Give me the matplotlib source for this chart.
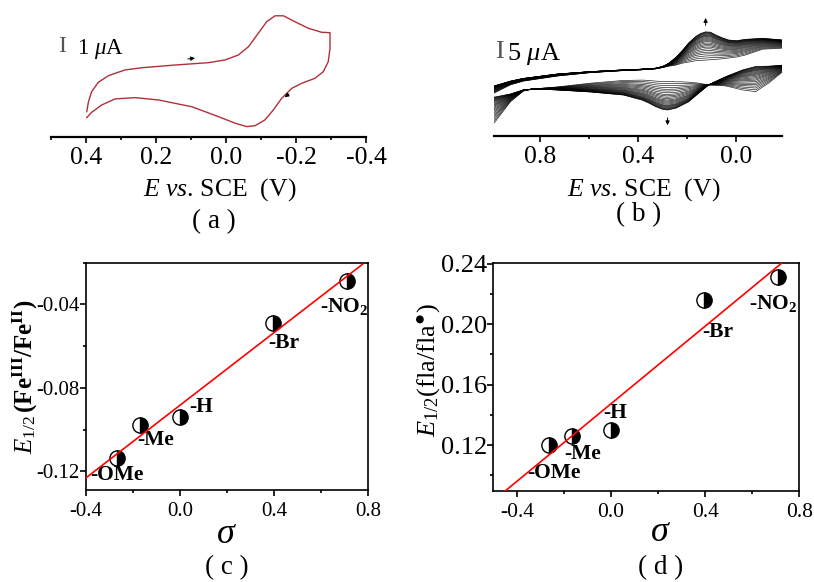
import numpy as np
import matplotlib.pyplot as plt
from matplotlib.ticker import MultipleLocator, FormatStrFormatter

plt.rcParams['font.family'] = 'Liberation Serif'
plt.rcParams['mathtext.fontset'] = 'custom'
plt.rcParams['mathtext.rm'] = 'Liberation Serif'
plt.rcParams['mathtext.it'] = 'Liberation Serif:italic'
plt.rcParams['mathtext.bf'] = 'Liberation Serif:bold'
plt.rcParams['mathtext.fallback'] = 'stix'
plt.rcParams['axes.unicode_minus'] = False

# (a) single CV, potential (V) and current (uA), forward then reverse scan
E_a = [0.398, 0.393, 0.384, 0.365, 0.336, 0.289, 0.241, 0.146, 0.051, 0.003,
       -0.035, -0.064, -0.092, -0.116, -0.140, -0.164, -0.197, -0.235, -0.273, -0.297,
       -0.297, -0.292, -0.278, -0.254, -0.216, -0.188, -0.159, -0.135, -0.111, -0.083,
       -0.059, -0.026, 0.022, 0.098, 0.193, 0.260, 0.317, 0.355, 0.384, 0.398]
I_a = [-0.90, -0.13, 0.64, 1.36, 1.87, 2.31, 2.48, 2.69, 2.87, 3.08,
       3.46, 4.10, 5.13, 6.02, 6.48, 6.48, 6.02, 5.52, 5.21, 5.18,
       3.98, 2.95, 2.18, 1.67, 1.28, 0.90, 0.13, -0.77, -1.54, -1.98,
       -2.05, -1.79, -1.28, -0.52, 0.00, 0.18, 0.08, -0.38, -0.95, -1.36]

# (b) repetitive scans: first and last scan, upper and lower branch
E_b_up = [0.989, 0.923, 0.870, 0.730, 0.595, 0.459, 0.390, 0.328, 0.299, 0.275, 0.246, 0.217,
          0.193, 0.164, 0.144, 0.123, 0.103, 0.082, 0.053, 0.029, -0.004, -0.041, -0.111, -0.193]
I_b_up_first = [5.0, 7.4, 8.5, 10.0, 11.0, 11.6, 11.8, 12.1, 12.5, 12.9, 13.2, 13.8,
                14.1, 14.5, 14.6, 14.7, 14.8, 14.9, 15.1, 15.3, 15.6, 16.2, 17.9, 18.2]
I_b_up_last = [7.1, 8.5, 9.3, 10.6, 11.3, 11.8, 12.0, 12.3, 12.8, 13.7, 15.4, 17.6,
               19.7, 21.6, 22.5, 23.0, 22.9, 22.1, 21.2, 20.6, 20.4, 20.8, 21.1, 20.6]
E_b_lo = [-0.193, -0.135, -0.082, -0.029, 0.041, 0.111, 0.152, 0.193, 0.226, 0.246, 0.267, 0.279,
          0.299, 0.328, 0.357, 0.382, 0.459, 0.595, 0.730, 0.829, 0.870, 0.923, 0.989]
I_b_lo_first = [11.3, 7.9, 5.4, 5.9, 7.1, 7.4, 7.9, 8.2, 8.3, 8.3, 8.4, 8.4,
                8.4, 8.5, 8.7, 8.8, 8.7, 7.9, 6.8, 6.2, 5.6, 2.4, -3.8]
I_b_lo_last = [13.2, 12.9, 12.8, 11.8, 9.8, 7.4, 4.9, 2.4, 1.2, 0.5, 0.2, 0.0,
               0.2, 1.0, 2.1, 2.9, 4.4, 5.3, 5.9, 6.2, 5.9, 4.7, 3.8]
# anodic peak current of every scan (uA)
peak_b = [14.7, 15.3, 15.9, 16.5, 17.0, 17.5, 18.0, 18.5, 18.9, 19.3, 19.7, 20.1, 20.4,
          20.7, 21.0, 21.3, 21.6, 21.8, 22.0, 22.2, 22.4, 22.6, 22.75, 22.9, 23.0]

# (c), (d) Hammett plots
groups = ['-OMe', '-Me', '-H', '-Br', r'-NO$_{\mathbf{2}}$']
sigma_c = [-0.267, -0.171, 0.0, 0.393, 0.71]
E_fe = [-0.1139, -0.0979, -0.0939, -0.0491, -0.0288]
sigma_d = [-0.265, -0.166, 0.0, 0.396, 0.711]
E_fla = [0.120, 0.1262, 0.1299, 0.2158, 0.2312]

# label offsets (points) from each marker
off_c = [(0, -12), (11, -11), (15, 7), (8, -14), (-2, -18)]
off_d = [(4, -20), (8, -13), (3, 12), (10, -23), (-4, -19)]

fig = plt.figure(figsize=(8.14, 5.82), dpi=100)

axa = fig.add_axes([0.0627, 0.7646, 0.387, 0.2268])
axb = fig.add_axes([0.6069, 0.7663, 0.3538, 0.2251])
axc = fig.add_axes([0.1057, 0.1581, 0.3468, 0.3906])
axd = fig.add_axes([0.6060, 0.1569, 0.3759, 0.3907])

# ---------------- (a)
axa.plot(E_a, I_a, color='#b0303a', lw=1.0)
axa.annotate('', xy=(0.081, 3.25), xytext=(0.117, 3.13),
             arrowprops=dict(arrowstyle='-|>', color='k', lw=0.7, mutation_scale=6))
axa.annotate('', xy=(-0.161, 0.08), xytext=(-0.186, 0.59),
             arrowprops=dict(arrowstyle='-|>', color='k', lw=0.7, mutation_scale=6))
axa.set_xlim(0.5, -0.4)
axa.set_ylim(-2.85, 7.31)

# ---------------- (b)
up_first = np.array(I_b_up_first)
up_last = np.array(I_b_up_last)
lo_first = np.array(I_b_lo_first)
lo_last = np.array(I_b_lo_last)
for p in peak_b:
    f = (p - peak_b[0]) / (peak_b[-1] - peak_b[0])
    axb.plot(E_b_up, up_first + f * (up_last - up_first), color='k', lw=0.5, alpha=0.85)
    axb.plot(E_b_lo, lo_first + f * (lo_last - lo_first), color='k', lw=0.5, alpha=0.85)
axb.annotate('', xy=(0.123, 27.9), xytext=(0.123, 24.1),
             arrowprops=dict(arrowstyle='-|>', color='k', lw=0.7, mutation_scale=6))
axb.annotate('', xy=(0.279, -5.3), xytext=(0.279, -1.5),
             arrowprops=dict(arrowstyle='-|>', color='k', lw=0.7, mutation_scale=6))
axb.set_xlim(0.99, -0.19)
axb.set_ylim(-7.65, 30.9)

for ax in (axa, axb):
    for s in ('left', 'right', 'top'):
        ax.spines[s].set_visible(False)
    ax.spines['bottom'].set_linewidth(1.6)
    ax.set_yticks([])
    ax.tick_params(axis='x', which='major', direction='out', length=4, width=1.2,
                   labelsize=18.5, pad=3)
    ax.tick_params(axis='x', which='minor', direction='out', length=2.5, width=1.2)
    ax.xaxis.set_major_formatter(FormatStrFormatter('%.1f'))
    ax.set_xlabel(r'$E$ $vs$. SCE  (V)', fontsize=18.5)
    ax.xaxis.label.set_va('center')

axa.xaxis.set_major_locator(MultipleLocator(0.2))
axa.xaxis.set_minor_locator(MultipleLocator(0.1))
axa.xaxis.set_label_coords(0.536, -0.40)
axb.xaxis.set_major_locator(MultipleLocator(0.4))
axb.xaxis.set_minor_locator(MultipleLocator(0.2))
axb.xaxis.set_label_coords(0.521, -0.41)

fig.text(0.0765, 0.920, 'I', fontsize=17, color='#555555', ha='center', va='center')
fig.text(0.0940, 0.916, r'1 $\mu$A', fontsize=16.5, ha='left', va='center')
fig.text(0.6140, 0.910, 'I', fontsize=19, color='#555555', ha='center', va='center')
fig.text(0.6225, 0.907, r'5 $\mu$A', fontsize=19, ha='left', va='center')

# ---------------- (c), (d)
panels = [(axc, sigma_c, E_fe, off_c, (-0.4, 0.775)),
          (axd, sigma_d, E_fla, off_d, (-0.5, 0.726))]
for ax, sx, ey, offs, xr in panels:
    ax.plot(sx, ey, 'o', ms=11, fillstyle='right', markerfacecolor='k',
            markerfacecoloralt='white', markeredgecolor='k', mew=1.0, zorder=3)
    k, b = np.polyfit(sx, ey, 1)
    xl = np.array(xr)
    ax.plot(xl, k * xl + b, color='#ff0000', lw=1.2, zorder=4)
    for g, x0, y0, o in zip(groups, sx, ey, offs):
        ax.annotate(g, (x0, y0), xytext=o, textcoords='offset points',
                    ha='center', va='center', fontsize=15.5, fontweight='bold')
    for s in ax.spines.values():
        s.set_linewidth(1.2)
    ax.tick_params(which='major', direction='out', length=4, width=1.2, top=False, right=False)
    ax.tick_params(which='minor', direction='out', length=2.5, width=1.2, top=False, right=False)
    ax.xaxis.set_major_locator(MultipleLocator(0.4))
    ax.xaxis.set_minor_locator(MultipleLocator(0.2))
    ax.yaxis.set_major_locator(MultipleLocator(0.04))
    ax.yaxis.set_minor_locator(MultipleLocator(0.02))
    ax.xaxis.set_major_formatter(FormatStrFormatter('%.1f'))
    ax.yaxis.set_major_formatter(FormatStrFormatter('%.2f'))
    ax.set_xlabel(r'$\sigma$', fontsize=26)
    ax.xaxis.label.set_va('center')
    ax.yaxis.label.set_va('center')

axc.set_xlim(-0.4, 0.8)
axc.set_ylim(-0.129, -0.02)
axc.tick_params(axis='x', labelsize=15, pad=5)
axc.tick_params(axis='y', labelsize=15, pad=0.5)
axc.set_ylabel(r'$E_{1/2}\,\mathbf{(Fe^{III}/Fe^{II})}$', fontsize=18)
axc.xaxis.set_label_coords(0.496, -0.198)
axc.yaxis.set_label_coords(-0.215, 0.5)

axd.set_xlim(-0.5, 0.8)
axd.set_ylim(0.0898, 0.2402)
axd.tick_params(axis='x', labelsize=15.5, pad=5)
axd.tick_params(axis='y', labelsize=19, pad=0.5)
axd.set_ylabel(r'$E_{1/2}\mathrm{(fla/fla^{●})}$', fontsize=19)
axd.xaxis.set_label_coords(0.548, -0.186)
axd.yaxis.set_label_coords(-0.212, 0.53)

# panel letters
fig.text(0.263, 0.619, '( a )', fontsize=19.5, ha='center', va='center')
fig.text(0.784, 0.632, '( b )', fontsize=19.5, ha='center', va='center')
fig.text(0.279, 0.025, '( c )', fontsize=19.5, ha='center', va='center')
fig.text(0.812, 0.025, '( d )', fontsize=19.5, ha='center', va='center')

fig.savefig('out.png', dpi=100)
